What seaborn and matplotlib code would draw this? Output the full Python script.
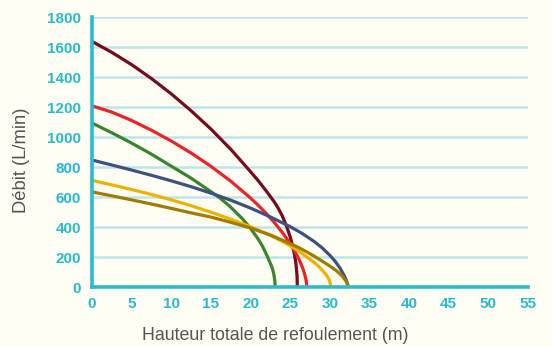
import matplotlib
matplotlib.use("Agg")
import matplotlib.pyplot as plt
import seaborn as sns
import pandas as pd

# Pump curves: total head (m) vs flow rate (L/min)
h_maroon = [0, 2.5, 5, 7.5, 10, 12.5, 15, 17.5, 20, 21, 22, 23, 23.5, 24, 24.5, 25, 25.3, 25.5, 25.7, 25.8, 25.87, 25.9]
q_maroon = [1640, 1567, 1485, 1392, 1290, 1177, 1055, 920, 770, 708, 640, 568, 525, 475, 412, 335, 275, 228, 165, 118, 70, 0]

h_red = [0, 2.5, 5, 7.5, 10, 12.5, 15, 17.5, 20, 21, 22, 23, 24, 25, 25.5, 26, 26.3, 26.6, 26.8, 26.9, 27.0, 27.05, 27.08, 27.1]
q_red = [1210, 1168, 1112, 1047, 975, 895, 806, 707, 594, 544, 490, 431, 365, 290, 246, 197, 163, 123, 91, 71, 47, 31, 18, 0]

h_green = [0, 2.5, 5, 7.5, 10, 12.5, 15, 16.2, 17.5, 19, 20, 21, 21.5, 22, 22.4, 22.7, 22.9, 23.0, 23.07, 23.1]
q_green = [1095, 1030, 961, 887, 807, 727, 637, 592, 533, 454, 392, 317, 273, 218, 170, 133, 95, 65, 35, 0]

h_blue = [0, 2.5, 5, 7.5, 10, 12.5, 15, 17.5, 20, 22.5, 25, 26.5, 28, 29, 30, 30.7, 31.3, 31.8, 32.1, 32.25, 32.3]
q_blue = [848, 815, 781, 746, 709, 670, 627, 580, 527, 468, 403, 358, 305, 263, 212, 170, 125, 78, 42, 18, 0]

h_yellow = [0, 2.5, 5, 7.5, 10, 12.5, 15, 17.5, 20, 22.5, 24, 25, 26, 27, 28, 28.7, 29.2, 29.6, 29.9, 30.05, 30.1]
q_yellow = [712, 682, 651, 618, 582, 543, 500, 453, 402, 345, 305, 275, 242, 205, 165, 132, 103, 78, 50, 25, 0]

h_brown = [0, 2.5, 5, 7.5, 10, 12.5, 15, 17.5, 20, 22.5, 25, 26, 27, 28, 29, 30, 30.8, 31.4, 31.8, 32.1, 32.25, 32.3]
q_brown = [635, 609, 582, 554, 525, 495, 467, 432, 394, 347, 290, 265, 237, 207, 174, 140, 110, 82, 58, 33, 15, 0]

x_ticks = [0, 5, 10, 15, 20, 25, 30, 35, 40, 45, 50, 55]
y_ticks = [0, 200, 400, 600, 800, 1000, 1200, 1400, 1600, 1800]

curves = {
    "maroon": (h_maroon, q_maroon),
    "red": (h_red, q_red),
    "green": (h_green, q_green),
    "blue": (h_blue, q_blue),
    "yellow": (h_yellow, q_yellow),
    "brown": (h_brown, q_brown),
}
palette = {
    "maroon": "#7A0A1C",
    "red": "#EE2229",
    "green": "#3A862C",
    "blue": "#3C5380",
    "yellow": "#EEB300",
    "brown": "#A47A00",
}

df = pd.concat(
    [pd.DataFrame({"H": h, "Q": q, "pompe": name}) for name, (h, q) in curves.items()],
    ignore_index=True,
)

sns.set_theme(style="white")
plt.rcParams["font.family"] = ["Liberation Sans", "DejaVu Sans"]

bg = "#FFFEF4"
teal = "#27BDCF"
grid_c = "#BDE6EA"
label_c = "#555555"

fig = plt.figure(figsize=(5.52, 3.47), dpi=100, facecolor=bg)
ax = fig.add_axes([0.1667, 0.1729, 0.7898, 0.7767])
ax.set_facecolor(bg)

sns.lineplot(
    data=df, x="H", y="Q", hue="pompe", palette=palette,
    estimator=None, sort=False, linewidth=2.3, legend=False, ax=ax,
)
for line in ax.lines:
    line.set_solid_joinstyle("round")

ax.set_xlim(0, 55)
ax.set_ylim(0, 1800)
ax.set_xticks(x_ticks)
ax.set_yticks(y_ticks)
ax.yaxis.grid(True, color=grid_c, linewidth=1.8)
ax.xaxis.grid(False)
ax.set_axisbelow(True)

for side in ["top", "right"]:
    ax.spines[side].set_visible(False)
for side in ["left", "bottom"]:
    ax.spines[side].set_color(teal)
    ax.spines[side].set_linewidth(2.6)
    ax.spines[side].set_zorder(5)

ax.tick_params(axis="both", length=0, labelsize=11, labelcolor=teal)
ax.tick_params(axis="y", pad=8)
ax.tick_params(axis="x", pad=7)
for lab in ax.get_xticklabels() + ax.get_yticklabels():
    lab.set_fontweight("bold")

ax.set_xlabel("Hauteur totale de refoulement (m)", fontsize=12.8, color=label_c)
ax.xaxis.set_label_coords(0.421, -0.148)
ax.set_ylabel("Débit (L/min)", fontsize=13.2, color=label_c)
ax.yaxis.set_label_coords(-0.142, 0.47)

fig.savefig("out.png", dpi=100, facecolor=bg)
